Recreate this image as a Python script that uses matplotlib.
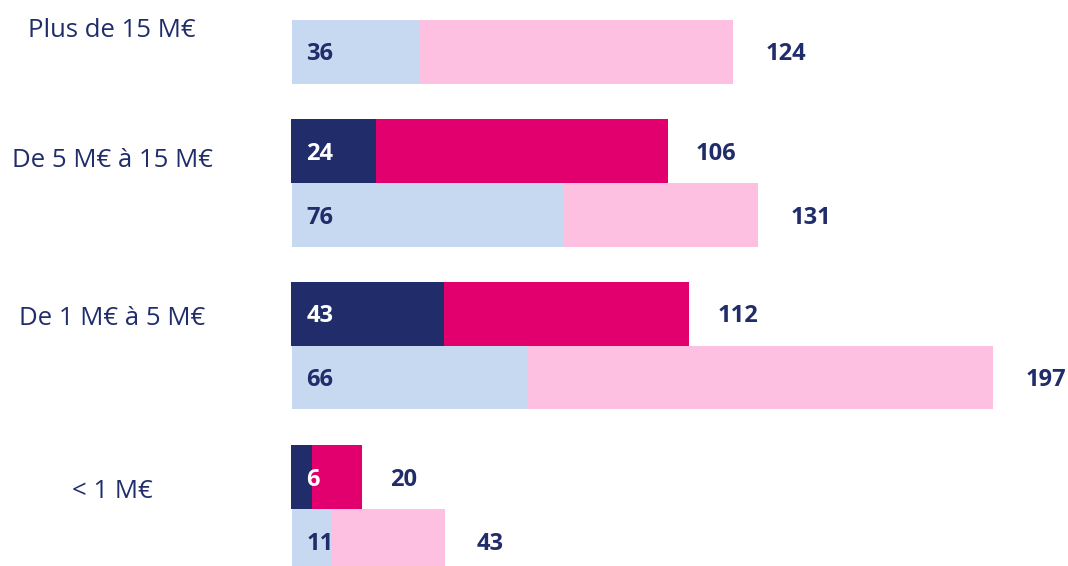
import matplotlib.pyplot as plt
import numpy as np

categories = ["Plus de 15 M€", "De 5 M€ à 15 M€", "De 1 M€ à 5 M€", "< 1 M€"]
# dark series (first segment / total), None = no bar
dark_first = [None, 24, 43, 6]
dark_total = [None, 106, 112, 20]
# light series
light_first = [36, 76, 66, 11]
light_total = [124, 131, 197, 43]

navy = "#202D6A"
magenta = "#E2006E"
light_blue = "#C6D9F0"
pink = "#FEC0E0"

plt.rcParams['font.family'] = ['Open Sans', 'DejaVu Sans']

fig = plt.figure(figsize=(10.68, 5.66), dpi=100)
ax = fig.add_axes([0, 0, 1, 1])

px = 3.56  # pixels per unit
ax.set_xlim(-292 / px, (1068 - 292) / px)
ax.set_ylim((566 - 51.5) / 163, -51.5 / 163)
ax.axis('off')

h = 64 / 163
ypos = np.arange(len(categories))
label_offsets = [-0.13, -0.33, -0.36, -0.30]

for i, cat in enumerate(categories):
    y_light = ypos[i]
    y_dark = ypos[i] - h
    ax.barh(y_light, light_first[i], height=h, color=light_blue, left=0)
    ax.barh(y_light, light_total[i] - light_first[i], height=h, color=pink, left=light_first[i])
    ax.text(4, y_light, str(light_first[i]), color=navy, fontsize=17, fontweight='bold',
            va='center_baseline', ha='left')
    ax.text(light_total[i] + 9, y_light, str(light_total[i]), color=navy, fontsize=17,
            fontweight='bold', va='center_baseline', ha='left')
    if dark_first[i] is not None:
        ax.barh(y_dark, dark_first[i], height=h, color=navy, left=-0.4)
        ax.barh(y_dark, dark_total[i] - dark_first[i], height=h, color=magenta,
                left=dark_first[i] - 0.4)
        ax.text(4, y_dark, str(dark_first[i]), color="white", fontsize=17, fontweight='bold',
                va='center_baseline', ha='left')
        ax.text(dark_total[i] + 7.5, y_dark, str(dark_total[i]), color=navy, fontsize=17,
                fontweight='bold', va='center_baseline', ha='left')
    ax.text(-180 / px, ypos[i] + label_offsets[i], cat, color=navy, fontsize=18.5,
            va='center', ha='center')

plt.savefig('out.png', dpi=100)
